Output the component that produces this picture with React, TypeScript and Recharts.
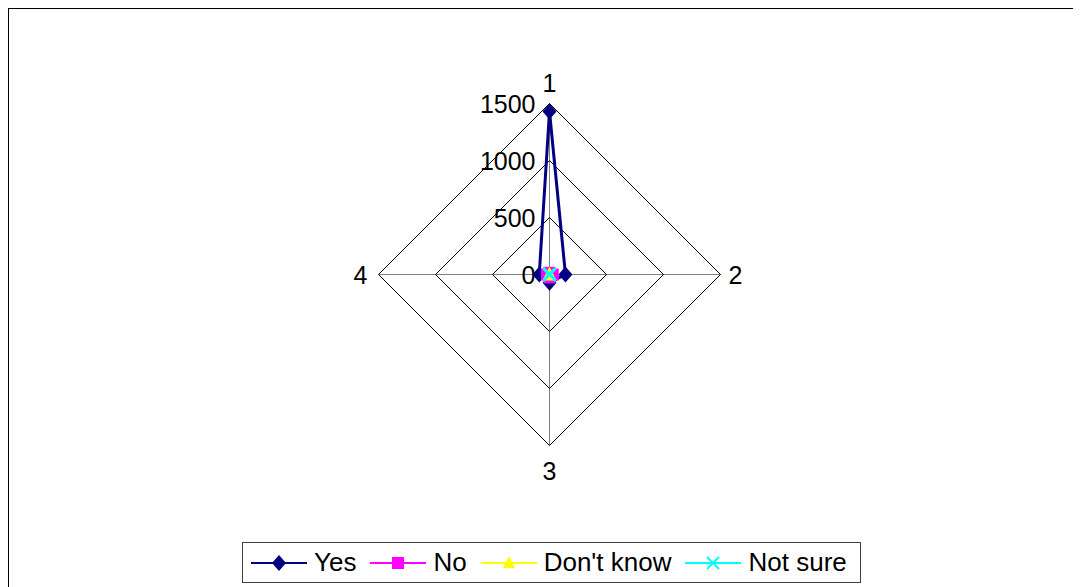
import React from 'react';
import { RadarChart, Radar, PolarGrid, PolarAngleAxis, PolarRadiusAxis, Legend } from 'recharts';

const categories = ['1', '2', '3', '4'];
const yesValues = [1430, 140, 72, 90];
const noValues = [15, 28, 25, 22];
const dontKnowValues = [5, 3, 8, 4];
const notSureValues = [6, 4, 5, 3];
const radiusTicks = [0, 500, 1000, 1500];

const data = categories.map((c, i) => ({
  axis: c,
  yes: yesValues[i],
  no: noValues[i],
  dontKnow: dontKnowValues[i],
  notSure: notSureValues[i],
}));

const FONT = "Arial, 'Liberation Sans', sans-serif";

type Marker = 'diamond' | 'square' | 'triangle' | 'cross';

const series: { key: string; name: string; color: string; marker: Marker }[] = [
  { key: 'yes', name: 'Yes', color: '#000080', marker: 'diamond' },
  { key: 'no', name: 'No', color: '#FF00FF', marker: 'square' },
  { key: 'dontKnow', name: "Don't know", color: '#FFFF00', marker: 'triangle' },
  { key: 'notSure', name: 'Not sure', color: '#00FFFF', marker: 'cross' },
];

const markerShape = (marker: Marker, x: number, y: number, color: string, key?: any) => {
  switch (marker) {
    case 'diamond':
      return <path key={key} d={`M${x},${y - 8} L${x + 7},${y} L${x},${y + 8} L${x - 7},${y} Z`} fill={color} />;
    case 'square':
      return <rect key={key} x={x - 6} y={y - 6} width={12} height={12} fill={color} />;
    case 'triangle':
      return <path key={key} d={`M${x},${y - 7} L${x + 6},${y + 5} L${x - 6},${y + 5} Z`} fill={color} />;
    default:
      return (
        <path
          key={key}
          d={`M${x - 6},${y - 6} L${x + 6},${y + 6} M${x + 6},${y - 6} L${x - 6},${y + 6}`}
          stroke={color}
          strokeWidth={2}
          fill="none"
        />
      );
  }
};

const AngleTick = (props: any) => {
  const { x, y, index, payload } = props;
  let tx = x;
  let ty = y;
  let anchor: 'start' | 'middle' | 'end' = 'middle';
  if (index === 0) ty = y - 13;
  else if (index === 1) { anchor = 'start'; }
  else if (index === 2) ty = y + 17;
  else { anchor = 'end'; tx = x - 3; }
  return (
    <text x={tx} y={ty} textAnchor={anchor} dominantBaseline="central" fontSize={25} fontFamily={FONT} fill="#000">
      {payload.value}
    </text>
  );
};

const RadiusTick = (props: any) => {
  const { x, y, payload } = props;
  return (
    <text x={x - 14} y={y} textAnchor="end" dominantBaseline="central" fontSize={25} fontFamily={FONT} fill="#000">
      {payload.value}
    </text>
  );
};

const LegendBox = () => (
  <div
    style={{
      display: 'flex',
      alignItems: 'center',
      border: '1px solid #404040',
      height: 39,
      padding: '0 13px 0 8px',
      background: '#fff',
      fontFamily: FONT,
      fontSize: 26,
      whiteSpace: 'nowrap',
    }}
  >
    {series.map((s, i) => (
      <div key={s.key} style={{ display: 'flex', alignItems: 'center', marginRight: i < series.length - 1 ? 14 : 0 }}>
        <svg width={56} height={20} style={{ marginRight: 7 }}>
          <line x1={0} y1={10} x2={56} y2={10} stroke={s.color} strokeWidth={2} />
          {markerShape(s.marker, 28, 10, s.color)}
        </svg>
        <span style={{ color: '#000' }}>{s.name}</span>
      </div>
    ))}
  </div>
);

export default function App() {
  return (
    <div style={{ position: 'relative', width: 1073, height: 579, borderTop: '1px solid #000', borderLeft: '1px solid #000', boxSizing: 'border-box', background: '#fff' }}>
      <RadarChart
        width={1072}
        height={578}
        data={data}
        cx={540.5}
        cy={265.5}
        outerRadius={171}
        margin={{ top: 0, right: 0, bottom: 0, left: 0 }}
      >
        <PolarGrid gridType="polygon" polarRadius={[]} radialLines stroke="#808080" strokeOpacity={1} />
        <PolarGrid gridType="polygon" radialLines={false} stroke="#000" strokeOpacity={1} />
        <PolarAngleAxis dataKey="axis" tick={<AngleTick />} tickLine={false} axisLine={false} />
        <PolarRadiusAxis
          angle={90}
          domain={[0, 1500]}
          ticks={radiusTicks as any}
          tickCount={4}
          tick={<RadiusTick />}
          axisLine={false}
          tickLine={false}
        />
        {series.map((s) => (
          <Radar
            key={s.key}
            name={s.name}
            dataKey={s.key}
            stroke={s.color}
            strokeWidth={s.key === 'yes' ? 3 : 2}
            fill="none"
            fillOpacity={0}
            isAnimationActive={false}
            dot={(p: any) => markerShape(s.marker, p.cx, p.cy, s.color, `${s.key}-${p.index}`)}
          />
        ))}
        <Legend content={<LegendBox />} wrapperStyle={{ left: 233, top: 533, width: 'auto', height: 41 }} />
      </RadarChart>
    </div>
  );
}
